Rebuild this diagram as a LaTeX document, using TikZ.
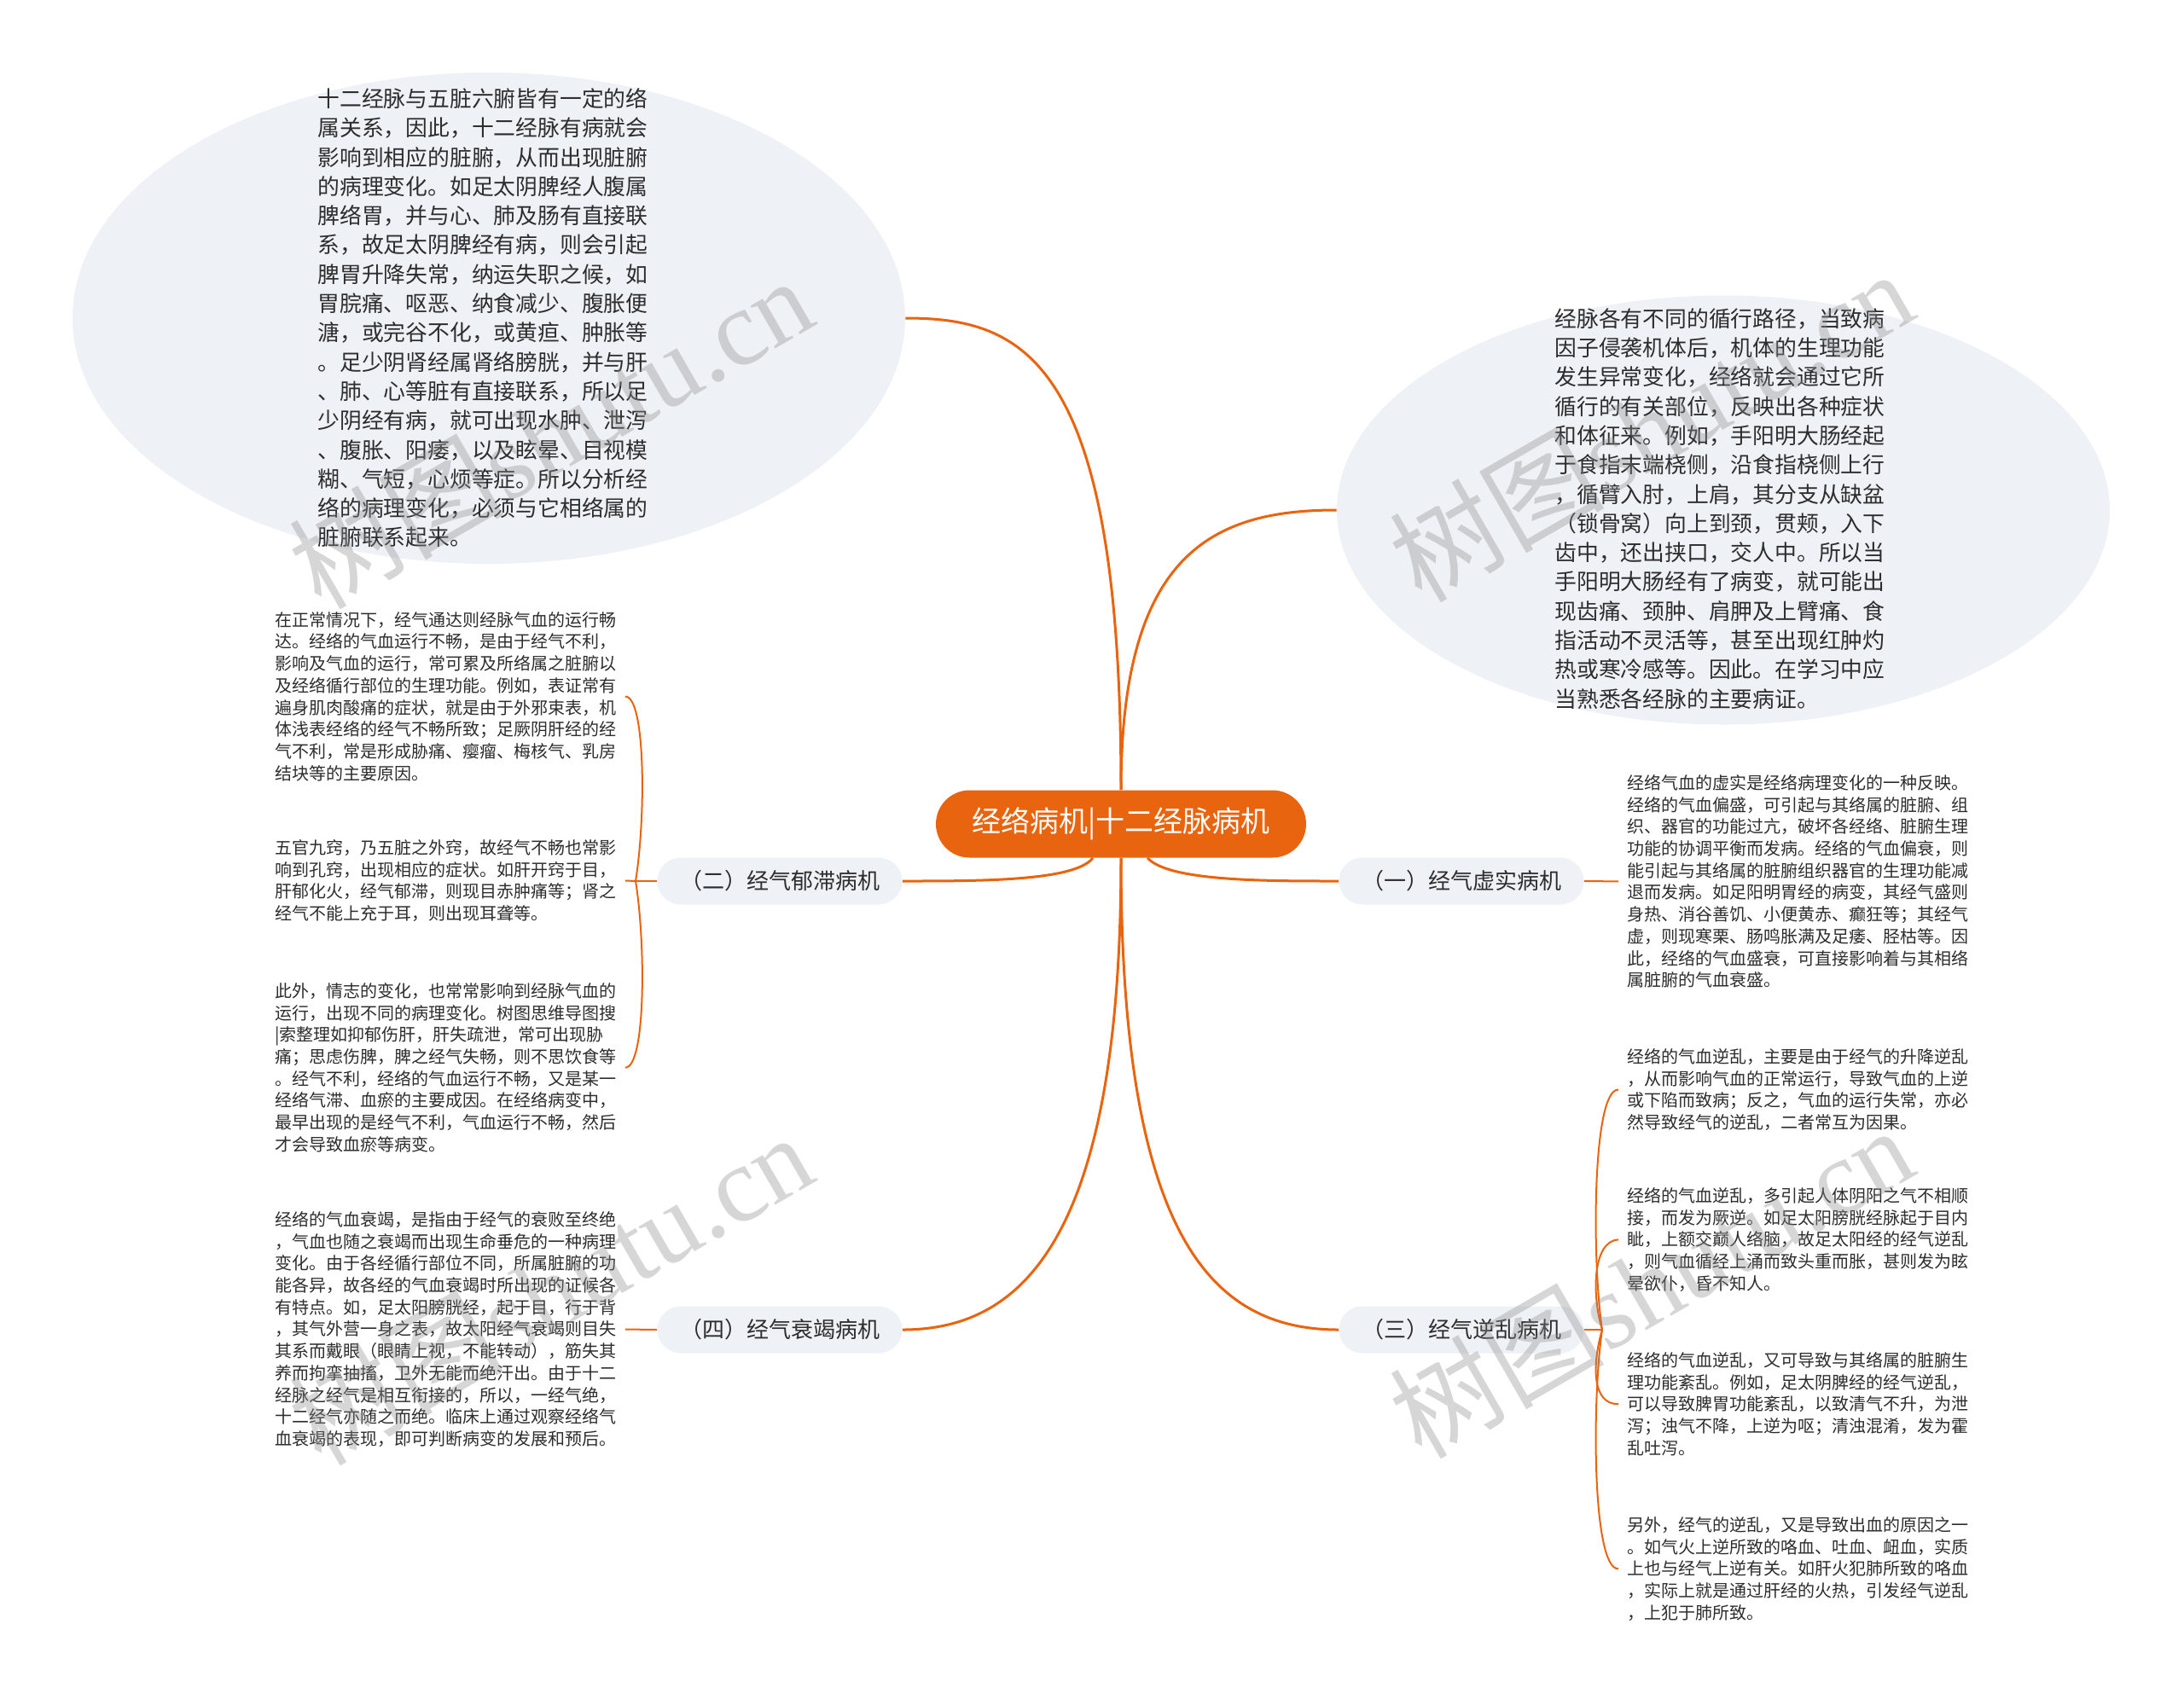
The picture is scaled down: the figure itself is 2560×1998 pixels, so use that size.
\documentclass[tikz,border=0pt]{standalone}
\usepackage{fontspec}
\setmainfont{Noto Sans CJK SC}
\newfontfamily\wmfont{Liberation Serif}
\usetikzlibrary{shapes.geometric}
\definecolor{mainorange}{RGB}{232,100,14}
\definecolor{bubble}{RGB}{238,241,245}
\definecolor{txt}{RGB}{45,45,45}
\definecolor{wm}{RGB}{140,140,140}
\begin{document}
\begin{tikzpicture}[x=0.5pt,y=-0.5pt,
  conn/.style={draw=mainorange, line width=1.5pt},
  subconn/.style={draw=mainorange, line width=1pt},
  bigtxt/.style={anchor=north west, inner sep=0pt, align=left, text=txt, font=\fontsize{12.9}{17.15}\selectfont},
  smalltxt/.style={anchor=north west, inner xsep=5pt, inner ysep=0pt, align=left, text=txt, font=\fontsize{10}{12.85}\selectfont},
  branch/.style={fill=bubble, rounded corners=13.75pt, minimum width=143.5pt, minimum height=27.5pt, inner sep=0pt, text=txt, font=\fontsize{13}{15}\selectfont},
  bubblebox/.style={ellipse, fill=bubble, inner sep=0pt},
  watermark/.style={rotate=30, text=wm, opacity=0.35, font=\fontsize{63}{70}\selectfont}
]
\useasboundingbox (0,0) rectangle (2560,1998);
\fill[white] (0,0) rectangle (2560,1998);

% big bubbles
\node[bubblebox, minimum width=488pt, minimum height=288pt] (tl) at (573,373) {};
\node[bubblebox, minimum width=453pt, minimum height=251.5pt] (tr) at (2020,598) {};

\node[bigtxt] (tltext) at (372,103) {十二经脉与五脏六腑皆有一定的络\\属关系，因此，十二经脉有病就会\\影响到相应的脏腑，从而出现脏腑\\的病理变化。如足太阴脾经人腹属\\脾络胃，并与心、肺及肠有直接联\\系，故足太阴脾经有病，则会引起\\脾胃升降失常，纳运失职之候，如\\胃脘痛、呕恶、纳食减少、腹胀便\\溏，或完谷不化，或黄疸、肿胀等\\。足少阴肾经属肾络膀胱，并与肝\\、肺、心等脏有直接联系，所以足\\少阴经有病，就可出现水肿、泄泻\\、腹胀、阳痿，以及眩晕、目视模\\糊、气短，心烦等症。所以分析经\\络的病理变化，必须与它相络属的\\脏腑联系起来。};

\node[bigtxt] (trtext) at (1822,361) {经脉各有不同的循行路径，当致病\\因子侵袭机体后，机体的生理功能\\发生异常变化，经络就会通过它所\\循行的有关部位，反映出各种症状\\和体征来。例如，手阳明大肠经起\\于食指末端桡侧，沿食指桡侧上行\\，循臂入肘，上肩，其分支从缺盆\\（锁骨窝）向上到颈，贯颊，入下\\齿中，还出挟口，交人中。所以当\\手阳明大肠经有了病变，就可能出\\现齿痛、颈肿、肩胛及上臂痛、食\\指活动不灵活等，甚至出现红肿灼\\热或寒冷感等。因此。在学习中应\\当熟悉各经脉的主要病证。};

% root
\node[fill=mainorange, rounded corners=19.75pt, minimum width=217pt, minimum height=39.5pt, inner sep=0pt, text=white, font=\fontsize{17}{20}\selectfont] (root) at (1314,966) {经络病机|十二经脉病机};

% branches
\node[branch] (b1) at (1713,1033) {（一）经气虚实病机};
\node[branch] (b2) at (914,1033) {（二）经气郁滞病机};
\node[branch] (b3) at (1713,1559) {（三）经气逆乱病机};
\node[branch] (b4) at (914,1559) {（四）经气衰竭病机};

% leaf texts left
\node[smalltxt] (l1) at (312,717) {在正常情况下，经气通达则经脉气血的运行畅\\达。经络的气血运行不畅，是由于经气不利，\\影响及气血的运行，常可累及所络属之脏腑以\\及经络循行部位的生理功能。例如，表证常有\\遍身肌肉酸痛的症状，就是由于外邪束表，机\\体浅表经络的经气不畅所致；足厥阴肝经的经\\气不利，常是形成胁痛、瘿瘤、梅核气、乳房\\结块等的主要原因。};
\node[smalltxt] (l2) at (312,984) {五官九窍，乃五脏之外窍，故经气不畅也常影\\响到孔窍，出现相应的症状。如肝开窍于目，\\肝郁化火，经气郁滞，则现目赤肿痛等；肾之\\经气不能上充于耳，则出现耳聋等。};
\node[smalltxt] (l3) at (312,1152) {此外，情志的变化，也常常影响到经脉气血的\\运行，出现不同的病理变化。树图思维导图搜\\|索整理如抑郁伤肝，肝失疏泄，常可出现胁\\痛；思虑伤脾，脾之经气失畅，则不思饮食等\\。经气不利，经络的气血运行不畅，又是某一\\经络气滞、血瘀的主要成因。在经络病变中，\\最早出现的是经气不利，气血运行不畅，然后\\才会导致血瘀等病变。};
\node[smalltxt] (l4) at (312,1420) {经络的气血衰竭，是指由于经气的衰败至终绝\\，气血也随之衰竭而出现生命垂危的一种病理\\变化。由于各经循行部位不同，所属脏腑的功\\能各异，故各经的气血衰竭时所出现的证候各\\有特点。如，足太阳膀胱经，起于目，行于背\\，其气外营一身之表，故太阳经气衰竭则目失\\其系而戴眼（眼睛上视，不能转动），筋失其\\养而拘挛抽搐，卫外无能而绝汗出。由于十二\\经脉之经气是相互衔接的，所以，一经气绝，\\十二经气亦随之而绝。临床上通过观察经络气\\血衰竭的表现，即可判断病变的发展和预后。};

% leaf texts right
\node[smalltxt] (r1) at (1897,908) {经络气血的虚实是经络病理变化的一种反映。\\经络的气血偏盛，可引起与其络属的脏腑、组\\织、器官的功能过亢，破坏各经络、脏腑生理\\功能的协调平衡而发病。经络的气血偏衰，则\\能引起与其络属的脏腑组织器官的生理功能减\\退而发病。如足阳明胃经的病变，其经气盛则\\身热、消谷善饥、小便黄赤、癫狂等；其经气\\虚，则现寒栗、肠鸣胀满及足痿、胫枯等。因\\此，经络的气血盛衰，可直接影响着与其相络\\属脏腑的气血衰盛。};
\node[smalltxt] (r3a) at (1897,1229) {经络的气血逆乱，主要是由于经气的升降逆乱\\，从而影响气血的正常运行，导致气血的上逆\\或下陷而致病；反之，气血的运行失常，亦必\\然导致经气的逆乱，二者常互为因果。};
\node[smalltxt] (r3b) at (1897,1392) {经络的气血逆乱，多引起人体阴阳之气不相顺\\接，而发为厥逆。如足太阳膀胱经脉起于目内\\眦，上额交巅人络脑，故足太阳经的经气逆乱\\，则气血循经上涌而致头重而胀，甚则发为眩\\晕欲仆，昏不知人。};
\node[smalltxt] (r3c) at (1897,1585) {经络的气血逆乱，又可导致与其络属的脏腑生\\理功能紊乱。例如，足太阴脾经的经气逆乱，\\可以导致脾胃功能紊乱，以致清气不升，为泄\\泻；浊气不降，上逆为呕；清浊混淆，发为霍\\乱吐泻。};
\node[smalltxt] (r3d) at (1897,1778) {另外，经气的逆乱，又是导致出血的原因之一\\。如气火上逆所致的咯血、吐血、衄血，实质\\上也与经气上逆有关。如肝火犯肺所致的咯血\\，实际上就是通过肝经的火热，引发经气逆乱\\，上犯于肺所致。};

% main connectors
\draw[conn] (root.north) .. controls (1314,420) and (1200,373) .. (tl.east);
\draw[conn] (root.north) .. controls (1314,650) and (1420,598) .. (tr.west);
\draw[conn] ([xshift=-16.5pt]root.south) .. controls (1260,1033) and (1150,1033) .. (b2.east);
\draw[conn] ([xshift=15.5pt]root.south) .. controls (1370,1033) and (1480,1033) .. (b1.west);
\draw[conn] (root.south) .. controls (1314,1450) and (1420,1559) .. (b3.west);
\draw[conn] (root.south) .. controls (1314,1450) and (1200,1559) .. (b4.east);

% sub connectors
\coordinate (j2) at (745,1033);
\draw[subconn] (b2.west) -- (j2);
\draw[subconn] (j2) .. controls (757,960) and (757,816) .. (l1.east);
\draw[subconn] (j2) -- (l2.east);
\draw[subconn] (j2) .. controls (757,1106) and (757,1252) .. (l3.east);

\coordinate (j3) at (1878,1559);
\draw[subconn] (b3.east) -- (j3);
\draw[subconn] (j3) .. controls (1866,1480) and (1866,1277) .. (r3a.west);
\draw[subconn] (j3) .. controls (1866,1520) and (1866,1455) .. (r3b.west);
\draw[subconn] (j3) .. controls (1866,1600) and (1866,1647) .. (r3c.west);
\draw[subconn] (j3) .. controls (1866,1640) and (1866,1840) .. (r3d.west);

\draw[subconn] (b1.east) -- (r1.west);
\draw[subconn] (b4.west) -- (l4.east);

% watermarks
\node[watermark] (wm1) at (645,506) {树图{\wmfont shutu.cn}};
\node[watermark] (wm2) at (1935,498) {树图{\wmfont shutu.cn}};
\node[watermark] (wm3) at (645,1510) {树图{\wmfont shutu.cn}};
\node[watermark] (wm4) at (1935,1502) {树图{\wmfont shutu.cn}};
\end{tikzpicture}
\end{document}
